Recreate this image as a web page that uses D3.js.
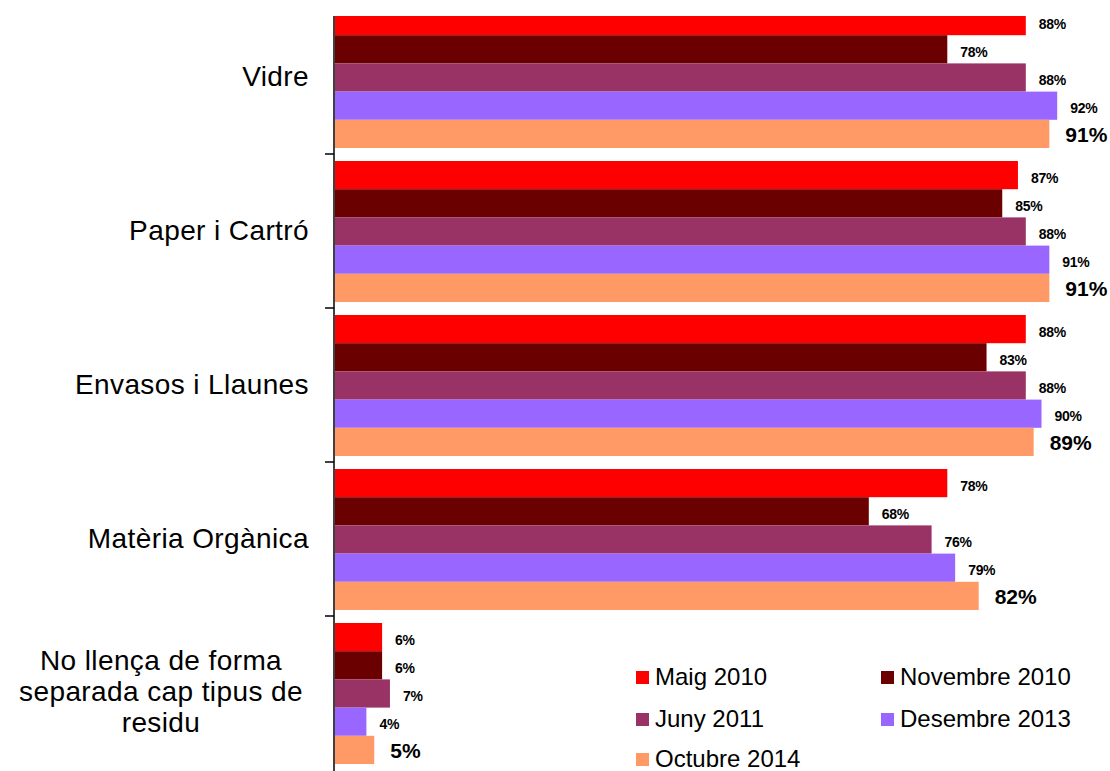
<!DOCTYPE html>
<html>
<head>
<meta charset="utf-8">
<script src="https://cdn.jsdelivr.net/npm/d3@7"></script>
<style>
  html, body { margin: 0; padding: 0; background: #fff; }
  svg { display: block; }
  text { font-family: "Liberation Sans", Arial, sans-serif; fill: #000; }
</style>
</head>
<body>
<svg id="chart" width="1110" height="771"></svg>
<script>
// Waste types (one group of bars each)
const categories = [
  "Vidre",
  "Paper i Cartró",
  "Envasos i Llaunes",
  "Matèria Orgànica",
  "No llença de forma separada cap tipus de residu"
];
// Survey waves
const seriesNames = ["Maig 2010", "Novembre 2010", "Juny 2011", "Desembre 2013", "Octubre 2014"];
const seriesColors = ["#ff0000", "#6b0000", "#993366", "#9966ff", "#ff9966"];

// Percentage of respondents per wave, one array per waste type
const vidre        = [88, 78, 88, 92, 91];
const paperCartro  = [87, 85, 88, 91, 91];
const envasos      = [88, 83, 88, 90, 89];
const materiaOrg   = [78, 68, 76, 79, 82];
const noSepara     = [6, 6, 7, 4, 5];
const values = [vidre, paperCartro, envasos, materiaOrg, noSepara];

// Multi-line wrapping for the long category label
const labelLines = {
  "No llença de forma separada cap tipus de residu": ["No llença de forma", "separada cap tipus de", "residu"]
};

const svg = d3.select("#chart");
const W = 1110, H = 771;

const x = d3.scaleLinear().domain([0, 100]).range([335, 1120]);
const y0 = d3.scaleBand().domain(categories).range([0, 770]).padding(0);
const y1 = d3.scaleBand().domain(seriesNames).range([7, 148]).padding(0);

// plot area is clipped at the top
svg.append("defs").append("clipPath").attr("id", "plotClip")
  .append("rect").attr("x", 0).attr("y", 16).attr("width", W).attr("height", H - 16);

const plot = svg.append("g").attr("clip-path", "url(#plotClip)");

const rows = [];
categories.forEach((c, ci) => {
  seriesNames.forEach((s, si) => {
    rows.push({ cat: c, series: s, si, v: values[ci][si] });
  });
});

// bars
plot.selectAll("rect.bar").data(rows).join("rect")
  .attr("class", "bar")
  .attr("x", x(0))
  .attr("y", d => y0(d.cat) + y1(d.series))
  .attr("width", d => x(d.v) - x(0))
  .attr("height", y1.bandwidth())
  .attr("fill", d => seriesColors[d.si]);

// value labels
plot.selectAll("text.val").data(rows).join("text")
  .attr("class", "val")
  .attr("x", d => x(d.v) + (d.si === 4 ? 16 : 13))
  .attr("y", d => y0(d.cat) + y1(d.series) + y1.bandwidth() / 2 + (d.si === 4 ? 8.5 : 7.5))
  .attr("font-size", d => d.si === 4 ? 21 : 14)
  .attr("font-weight", "bold")
  .attr("letter-spacing", d => d.si === 4 ? 0 : -0.3)
  .text(d => d.v + "%");

// category axis
const axisG = svg.append("g").attr("clip-path", "url(#plotClip)");
axisG.append("line")
  .attr("x1", 334).attr("x2", 334)
  .attr("y1", 0).attr("y2", H)
  .attr("stroke", "#000").attr("stroke-width", 1.5);
const boundaries = categories.slice(1).map(c => y0(c));
axisG.selectAll("line.tick").data(boundaries).join("line")
  .attr("class", "tick")
  .attr("x1", 325).attr("x2", 334)
  .attr("y1", d => d).attr("y2", d => d)
  .attr("stroke", "#000").attr("stroke-width", 1.5);

// category labels
categories.forEach(c => {
  const cy = y0(c) + y0.bandwidth() / 2;
  const lines = labelLines[c];
  if (lines) {
    const t = svg.append("text")
      .attr("x", 161).attr("text-anchor", "middle")
      .attr("font-size", 28)
      .attr("letter-spacing", 0.4);
    lines.forEach((ln, i) => {
      t.append("tspan").attr("x", 161)
        .attr("y", cy + 8 + (i - (lines.length - 1) / 2) * 31)
        .text(ln);
    });
  } else {
    svg.append("text")
      .attr("x", 309).attr("y", cy + 9)
      .attr("text-anchor", "end")
      .attr("font-size", 28)
      .attr("letter-spacing", 0.4)
      .text(c);
  }
});

// legend: two columns, filled row by row
const legend = svg.append("g");
const colX = [636, 881];
const rowY = [671, 713, 753];
seriesNames.forEach((s, i) => {
  const gx = colX[i % 2], gy = rowY[Math.floor(i / 2)];
  legend.append("rect")
    .attr("x", gx).attr("y", gy)
    .attr("width", 13).attr("height", 13)
    .attr("fill", seriesColors[i]);
  legend.append("text")
    .attr("x", gx + 19).attr("y", gy + 14)
    .attr("font-size", 24)
    .text(s);
});
</script>
</body>
</html>
